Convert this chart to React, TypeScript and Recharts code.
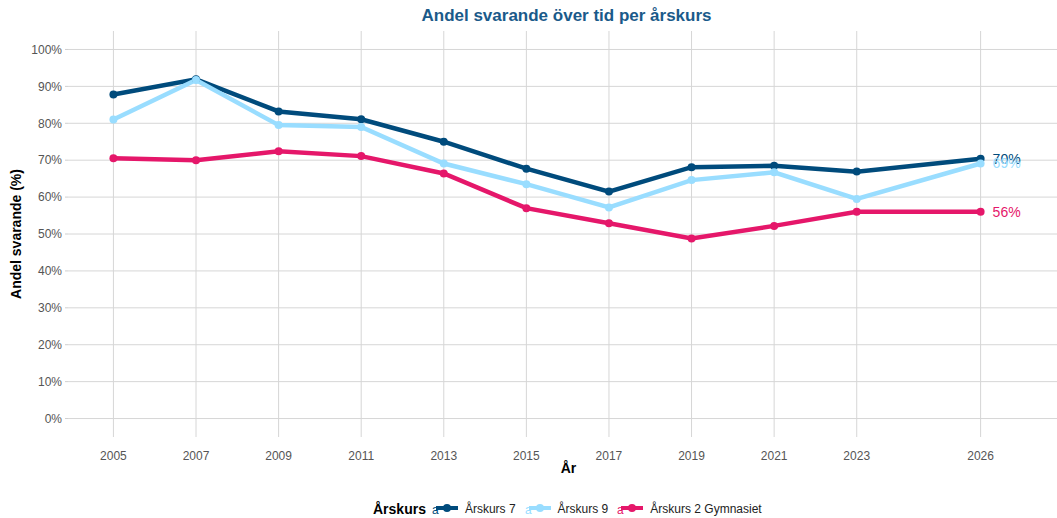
import React from 'react';
import { LineChart, Line, XAxis, YAxis, CartesianGrid, LabelList } from 'recharts';

const years = [2005, 2007, 2009, 2011, 2013, 2015, 2017, 2019, 2021, 2023, 2026];
const ak7 = [87.8, 91.9, 83.2, 81.1, 75.0, 67.7, 61.5, 68.1, 68.5, 66.9, 70.4];
const ak9 = [81.0, 91.7, 79.5, 79.0, 69.1, 63.5, 57.2, 64.6, 66.7, 59.5, 69.1];
const gy2 = [70.5, 70.0, 72.4, 71.1, 66.4, 57.0, 52.9, 48.8, 52.2, 56.0, 56.0];
const yTicks = [0, 10, 20, 30, 40, 50, 60, 70, 80, 90, 100];

const series = [
  { key: 'ak7', name: 'Årskurs 7', color: '#004b7c', values: ak7 },
  { key: 'ak9', name: 'Årskurs 9', color: '#99ddff', values: ak9 },
  { key: 'gy2', name: 'Årskurs 2 Gymnasiet', color: '#e5176a', values: gy2 },
];

const data = years.map((y, i) => {
  const row: any = { year: y };
  series.forEach((s) => { row[s.key] = s.values[i]; });
  return row;
});

const FONT = '"Liberation Sans", Arial, Helvetica, sans-serif';
const last = years.length - 1;

const EndLabel = (color: string) => (props: any) => {
  const { x, y, index, value } = props;
  if (index !== last) return null;
  return (
    <text x={x + 12} y={y} dy="0.35em" fill={color} fontSize={14} fontFamily={FONT}>
      {Math.round(value) + '%'}
    </text>
  );
};

const LegendKey = ({ color }: { color: string }) => (
  <svg width={26} height={14} style={{ display: 'block' }}>
    <text x={0} y={12} fontSize={12} fill={color} fontFamily={FONT}>a</text>
    <line x1={4} y1={6} x2={26} y2={6} stroke={color} strokeWidth={4} />
    <circle cx={15} cy={6} r={4} fill={color} />
  </svg>
);

export default function App() {
  return (
    <div style={{ position: 'absolute', left: 0, top: 0, width: 1057, height: 518, background: '#fff', fontFamily: FONT }}>
      <LineChart width={1057} height={518} data={data} margin={{ top: 31, right: 0, bottom: 0, left: 0 }}>
        <CartesianGrid stroke="#d6d6d6" strokeWidth={1} horizontalValues={yTicks} verticalValues={years} />
        <XAxis
          dataKey="year"
          type="number"
          domain={[2003.9, 2027.85]}
          ticks={years}
          allowDataOverflow
          height={81}
          axisLine={false}
          tickLine={false}
          tickMargin={8}
          tick={{ fill: '#555555', fontSize: 12, fontFamily: FONT }}
          label={{ value: 'År', position: 'insideTop', dy: 21, dx: 6, fill: '#000', fontSize: 14, fontWeight: 'bold', fontFamily: FONT }}
        />
        <YAxis
          type="number"
          domain={[-5, 105]}
          ticks={yTicks}
          allowDataOverflow
          width={68}
          axisLine={false}
          tickSize={3}
          tickLine={{ stroke: '#cfcfcf' }}
          tickMargin={3}
          tickFormatter={(v: number) => v + '%'}
          tick={{ fill: '#555555', fontSize: 12, fontFamily: FONT }}
          label={{ value: 'Andel svarande (%)', angle: -90, position: 'insideLeft', dx: 11, dy: 0, style: { textAnchor: 'middle' }, fill: '#000', fontSize: 14, fontWeight: 'bold', fontFamily: FONT }}
        />
        {series.map((s) => (
          <Line
            key={s.key}
            dataKey={s.key}
            name={s.name}
            stroke={s.color}
            strokeWidth={4.5}
            dot={{ r: 4, fill: s.color, stroke: s.color, strokeWidth: 0 }}
            activeDot={false}
            isAnimationActive={false}
          >
            <LabelList dataKey={s.key} content={EndLabel(s.color)} />
          </Line>
        ))}
      </LineChart>
      <div style={{ position: 'absolute', left: 0, top: 6, width: 1133, textAlign: 'center', fontSize: 17, fontWeight: 'bold', color: '#1a5a8a' }}>
        Andel svarande över tid per årskurs
      </div>
      <div style={{ position: 'absolute', left: 373, top: 501, display: 'flex', alignItems: 'center', whiteSpace: 'nowrap' }}>
        <span style={{ fontSize: 14, fontWeight: 'bold', color: '#000', marginRight: 6 }}>Årskurs</span>
        {series.map((s) => (
          <span key={s.key} style={{ display: 'flex', alignItems: 'center', marginRight: 9 }}>
            <LegendKey color={s.color} />
            <span style={{ fontSize: 12, color: '#222', marginLeft: 7 }}>{s.name}</span>
          </span>
        ))}
      </div>
    </div>
  );
}
